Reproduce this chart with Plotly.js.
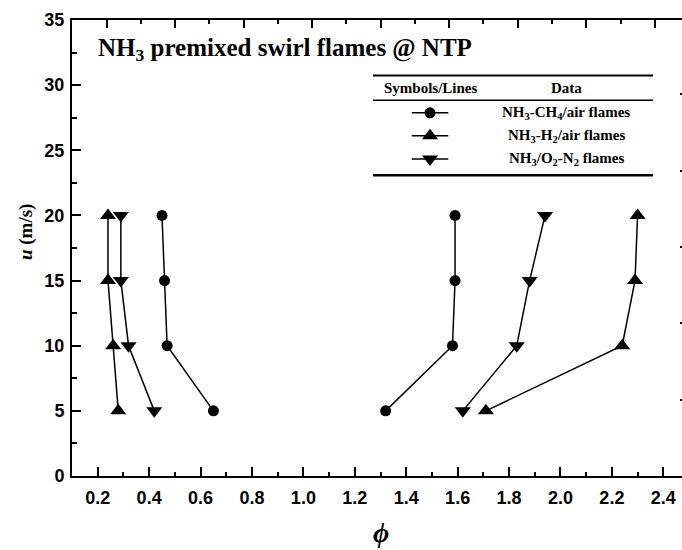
<!DOCTYPE html>
<html>
<head>
<meta charset="utf-8">
<script src="https://cdn.plot.ly/plotly-3.0.1.min.js"></script>
<style>
html,body{margin:0;padding:0;overflow:hidden;background:#fff;}
#chart{width:700px;height:550px;}
</style>
</head>
<body>
<div id="chart"></div>
<script>
// ---- data ----
const velocity = [5, 10, 15, 20];
const phiCH4Lean = [0.65, 0.47, 0.46, 0.45];
const phiCH4Rich = [1.32, 1.58, 1.59, 1.59];
const phiH2Lean  = [0.28, 0.26, 0.24, 0.24];
const phiH2Rich  = [1.71, 2.24, 2.29, 2.30];
const phiO2Lean  = [0.42, 0.32, 0.29, 0.29];
const phiO2Rich  = [1.62, 1.83, 1.88, 1.94];
const seriesNames = ["NH<sub>3</sub>-CH<sub>4</sub>/air flames", "NH<sub>3</sub>-H<sub>2</sub>/air flames", "NH<sub>3</sub>/O<sub>2</sub>-N<sub>2</sub> flames"];
const seriesSymbols = ["circle", "triangle-up", "triangle-down"];
const chartTitle = "NH<sub>3</sub> premixed swirl flames @ NTP";
const xTitle = "\u03D5";
const yTitle = "<i>u</i> (m/s)";

// ---- styling ----
const serif = "Liberation Serif, Times New Roman, serif";
const sans = "Liberation Sans, Arial, sans-serif";
const markerSizes = {"circle": 11, "triangle-up": 14, "triangle-down": 14};
function branch(x, sym){
  return {x: x, y: velocity, type: "scatter", mode: "lines+markers",
    line: {color: "#000", width: 1.5},
    marker: {symbol: sym, size: markerSizes[sym], color: "#000"},
    xaxis: "x", yaxis: "y", showlegend: false, hoverinfo: "x+y"};
}
const traces = [
  branch(phiCH4Lean, seriesSymbols[0]), branch(phiCH4Rich, seriesSymbols[0]),
  branch(phiH2Lean, seriesSymbols[1]),  branch(phiH2Rich, seriesSymbols[1]),
  branch(phiO2Lean, seriesSymbols[2]),  branch(phiO2Rich, seriesSymbols[2])
];

// pixel -> paper helpers (plot area: x 72..689, y 19.5..476.5)
const px = v => (v - 72) / 617;
const py = v => (476.5 - v) / 457;

// legend table (pixel-space overlay axes x3/y3)
const rowY = [112.5, 135.5, 158.8];
const annotations = [];
const shapes = [];
seriesSymbols.forEach((s, i) => {
  traces.push({x: [411.7, 448.3], y: [rowY[i], rowY[i]], type: "scatter",
    mode: "lines", line: {color: "#000", width: 1.5},
    xaxis: "x3", yaxis: "y3", showlegend: false, hoverinfo: "skip"});
  traces.push({x: [430], y: [rowY[i]], type: "scatter",
    mode: "markers", marker: {symbol: s, size: markerSizes[s], color: "#000"},
    xaxis: "x3", yaxis: "y3", showlegend: false, hoverinfo: "skip"});
  annotations.push({xref: "paper", yref: "paper", x: px(566), y: py(rowY[i]), xanchor: "center", yanchor: "middle",
    text: "<b>" + seriesNames[i] + "</b>", showarrow: false, font: {family: serif, size: 15, color: "#000"}});
});
annotations.push({xref: "paper", yref: "paper", x: px(431), y: py(88), xanchor: "center", yanchor: "middle",
  text: "<b>Symbols/Lines</b>", showarrow: false, font: {family: serif, size: 15, color: "#000"}});
annotations.push({xref: "paper", yref: "paper", x: px(566), y: py(88), xanchor: "center", yanchor: "middle",
  text: "<b>Data</b>", showarrow: false, font: {family: serif, size: 15, color: "#000"}});
shapes.push({type: "line", xref: "paper", yref: "paper", x0: px(373), x1: px(653), y0: py(75), y1: py(75), line: {color: "#000", width: 2}});
shapes.push({type: "line", xref: "paper", yref: "paper", x0: px(373), x1: px(653), y0: py(100), y1: py(100), line: {color: "#000", width: 1.5}});
shapes.push({type: "line", xref: "paper", yref: "paper", x0: px(373), x1: px(653), y0: py(175), y1: py(175), line: {color: "#000", width: 2.5}});

// title and axis titles
annotations.push({xref: "paper", yref: "paper", x: px(96), y: py(49), xanchor: "left", yanchor: "middle",
  text: "<b>" + chartTitle + "</b>", showarrow: false, font: {family: serif, size: 25, color: "#000"}});
annotations.push({xref: "paper", yref: "paper", x: px(26), y: py(232), xanchor: "center", yanchor: "middle", textangle: -90,
  text: "<b>" + yTitle + "</b>", showarrow: false, font: {family: serif, size: 19, color: "#000"}});
annotations.push({xref: "paper", yref: "paper", x: px(380.5), y: py(533), xanchor: "center", yanchor: "middle",
  text: "<b><i>" + xTitle + "</i></b>", showarrow: false, font: {family: serif, size: 28, color: "#000"}});

const tickFont = {family: sans, size: 18, color: "#000", weight: "bold"};
const layout = {
  width: 700, height: 550,
  margin: {l: 72, r: 11, t: 19.5, b: 73.5, pad: 0},
  paper_bgcolor: "#fff", plot_bgcolor: "#fff",
  showlegend: false,
  xaxis: {range: [0.1, 2.5], tick0: 0, dtick: 0.2, tickformat: ".1f",
    ticks: "inside", ticklen: 9, tickwidth: 2, tickcolor: "#000",
    minor: {dtick: 0.1, ticks: "inside", ticklen: 4.5, tickwidth: 2, tickcolor: "#000", showgrid: false},
    showline: true, linewidth: 2, linecolor: "#000", showgrid: false, zeroline: false,
    tickfont: tickFont, ticklabelstandoff: 4},
  yaxis: {range: [0, 35], tick0: 0, dtick: 5,
    ticks: "inside", ticklen: 9, tickwidth: 2, tickcolor: "#000",
    minor: {dtick: 2.5, ticks: "inside", ticklen: 4.5, tickwidth: 2, tickcolor: "#000", showgrid: false},
    showline: true, linewidth: 2, linecolor: "#000", showgrid: false, zeroline: false,
    tickfont: tickFont, ticklabelstandoff: 2},
  xaxis2: {overlaying: "x", side: "top", range: [-0.507, 8.5], tick0: 0, dtick: 1,
    ticks: "inside", ticklen: 8, tickwidth: 2, tickcolor: "#000",
    minor: {dtick: 0.5, ticks: "inside", ticklen: 4, tickwidth: 2, tickcolor: "#000", showgrid: false},
    showline: true, linewidth: 2, linecolor: "#000", showgrid: false, zeroline: false, showticklabels: false},
  yaxis2: {overlaying: "y", side: "right", range: [0, 5.974], tick0: 0, dtick: 1,
    ticks: "inside", ticklen: 9, tickwidth: 2, tickcolor: "#000",
    showline: true, linewidth: 2, linecolor: "#000", showgrid: false, zeroline: false, showticklabels: false},
  xaxis3: {overlaying: "x", range: [72, 689], visible: false, fixedrange: true},
  yaxis3: {overlaying: "y", range: [476.5, 19.5], visible: false, fixedrange: true},
  annotations: annotations,
  shapes: shapes
};
// dummy trace to activate the mirror axes
traces.push({x: [null], y: [null], xaxis: "x2", yaxis: "y2", type: "scatter", showlegend: false, hoverinfo: "skip"});
Plotly.newPlot("chart", traces, layout, {displayModeBar: false, staticPlot: true});
</script>
</body>
</html>
